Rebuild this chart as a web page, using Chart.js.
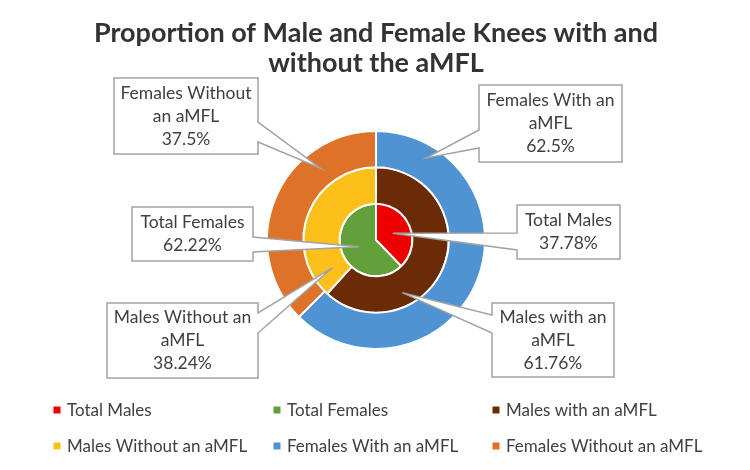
<!DOCTYPE html>
<html lang="en">

<head>
    <meta charset="UTF-8">
    <script src="https://cdn.jsdelivr.net/npm/chart.js"></script>
    <title>aMFL</title>
    <style>
        body { margin: 0; background: #fff; }
        #grafico { display: block; }
    </style>
</head>

<body>
    <canvas id="grafico" width="750" height="470"></canvas>
</body>

</html>

<script>
    // valores (em %)
    var totalLabels = ['Total Males', 'Total Females']
    var totalValues = [37.78, 62.22]
    var maleLabels = ['Males with an aMFL', 'Males Without an aMFL']
    var maleValues = [61.76, 38.24]
    var femaleLabels = ['Females With an aMFL', 'Females Without an aMFL']
    var femaleValues = [62.5, 37.5]

    var totalColors = ['#ee0000', '#62a03a']
    var maleColors = ['#6a2b06', '#fdbf1a']
    var femaleColors = ['#4f93d2', '#dd7228']

    var corTexto = '#404040'
    var fonte = 'Lato, "Open Sans", sans-serif'

    // caixas dos rótulos: dataset, índice, caixa, lado da seta, ponta (fração do ângulo / do raio)
    var caixas = [
        { ds: 0, i: 0, x: 479, y: 85, w: 143, h: 77, lado: 'left', y1: 130, y2: 148, fa: 0.14, fr: 0.65 },
        { ds: 0, i: 1, x: 114, y: 78, w: 144, h: 76, lado: 'right', y1: 122, y2: 142, fa: 0.72, fr: 0.5 },
        { ds: 1, i: 0, x: 492, y: 303, w: 122, h: 74, lado: 'left', y1: 315, y2: 333, fa: 0.69, fr: 0.62 },
        { ds: 1, i: 1, x: 107, y: 303, w: 151, h: 75, lado: 'right', y1: 313, y2: 333, fa: 0.11, fr: 0.43 },
        { ds: 2, i: 0, x: 517, y: 205, w: 103, h: 54, lado: 'left', y1: 233, y2: 250, fa: 0.5, fr: 0.5 },
        { ds: 2, i: 1, x: 132, y: 207, w: 121, h: 54, lado: 'right', y1: 237, y2: 252, fa: 0.5, fr: 0.5 }
    ]

    function quebrarTexto(ctx, texto, largura) {
        var palavras = texto.split(' ')
        var linhas = []
        var atual = ''
        for (var k = 0; k < palavras.length; k++) {
            var teste = atual ? atual + ' ' + palavras[k] : palavras[k]
            if (ctx.measureText(teste).width > largura && atual) {
                linhas.push(atual)
                atual = palavras[k]
            } else {
                atual = teste
            }
        }
        linhas.push(atual)
        return linhas
    }

    var pluginRotulos = {
        id: 'rotulos',
        afterDatasetsDraw: function (chart) {
            var ctx = chart.ctx
            ctx.save()
            ctx.font = '17.5px ' + fonte
            for (var c = 0; c < caixas.length; c++) {
                var cx = caixas[c]
                var arco = chart.getDatasetMeta(cx.ds).data[cx.i]
                var p = arco.getProps(['x', 'y', 'startAngle', 'endAngle', 'innerRadius', 'outerRadius'], true)
                var ang = p.startAngle + cx.fa * (p.endAngle - p.startAngle)
                var r = p.innerRadius + cx.fr * (p.outerRadius - p.innerRadius)
                var tx = p.x + r * Math.cos(ang)
                var ty = p.y + r * Math.sin(ang)

                var x0 = cx.x, y0 = cx.y, x1 = cx.x + cx.w, y1 = cx.y + cx.h
                ctx.beginPath()
                if (cx.lado === 'right') {
                    ctx.moveTo(x0, y0)
                    ctx.lineTo(x1, y0)
                    ctx.lineTo(x1, cx.y1)
                    ctx.lineTo(tx, ty)
                    ctx.lineTo(x1, cx.y2)
                    ctx.lineTo(x1, y1)
                    ctx.lineTo(x0, y1)
                } else {
                    ctx.moveTo(x0, y0)
                    ctx.lineTo(x1, y0)
                    ctx.lineTo(x1, y1)
                    ctx.lineTo(x0, y1)
                    ctx.lineTo(x0, cx.y2)
                    ctx.lineTo(tx, ty)
                    ctx.lineTo(x0, cx.y1)
                }
                ctx.closePath()
                ctx.fillStyle = '#ffffff'
                ctx.fill()
                ctx.strokeStyle = '#a3a3a3'
                ctx.lineWidth = 1.5
                ctx.stroke()

                var ds = chart.data.datasets[cx.ds]
                var linhas = quebrarTexto(ctx, ds.labels[cx.i], cx.w - 6)
                linhas.push(ds.data[cx.i] + '%')
                var alturaLinha = 23
                var meio = cx.x + cx.w / 2
                var yIni = cx.y + cx.h / 2 - (linhas.length - 1) * alturaLinha / 2
                ctx.fillStyle = corTexto
                ctx.textAlign = 'center'
                ctx.textBaseline = 'middle'
                for (var l = 0; l < linhas.length; l++) {
                    ctx.fillText(linhas[l], meio, yIni + l * alturaLinha)
                }
            }
            ctx.restore()
        }
    }

    // legenda em 3 colunas, 2 linhas
    var colunasLegenda = [57, 277, 496]
    var linhasLegenda = [410, 446]

    var pluginLegenda = {
        id: 'legendaGrade',
        afterDraw: function (chart) {
            var ctx = chart.ctx
            var itens = []
            var ordem = [2, 1, 0]
            for (var o = 0; o < ordem.length; o++) {
                var ds = chart.data.datasets[ordem[o]]
                for (var k = 0; k < ds.labels.length; k++) {
                    itens.push({ texto: ds.labels[k], cor: ds.backgroundColor[k] })
                }
            }
            ctx.save()
            ctx.font = '17px ' + fonte
            ctx.textBaseline = 'middle'
            ctx.textAlign = 'left'
            for (var n = 0; n < itens.length; n++) {
                var x = colunasLegenda[n % 3]
                var y = linhasLegenda[Math.floor(n / 3)]
                ctx.fillStyle = itens[n].cor
                ctx.fillRect(x - 3.5, y - 3.5, 7, 7)
                ctx.fillStyle = corTexto
                ctx.fillText(itens[n].texto, x + 10, y + 1)
            }
            ctx.restore()
        }
    }

    var dados = {
        labels: totalLabels,
        datasets: [{
            labels: femaleLabels,
            data: femaleValues,
            backgroundColor: femaleColors
        }, {
            labels: maleLabels,
            data: maleValues,
            backgroundColor: maleColors
        }, {
            labels: totalLabels,
            data: totalValues,
            backgroundColor: totalColors
        }]
    }

    const grafico = new Chart(document.getElementById('grafico'), {
        type: 'doughnut',
        data: dados,
        options: {
            responsive: false,
            animation: false,
            cutout: 0,
            radius: 109,
            borderColor: '#ffffff',
            borderWidth: 2,
            layout: { padding: { left: 2, right: 0, top: 0, bottom: 70 } },
            plugins: {
                legend: { display: false },
                tooltip: { enabled: false },
                title: {
                    display: true,
                    text: ['Proportion of Male and Female Knees with and', 'without the aMFL'],
                    color: '#333333',
                    font: { family: fonte, size: 27, weight: 'bold', lineHeight: 30 / 27 },
                    padding: { top: 18, bottom: 2 }
                }
            }
        },
        plugins: [pluginRotulos, pluginLegenda]
    });
</script>
